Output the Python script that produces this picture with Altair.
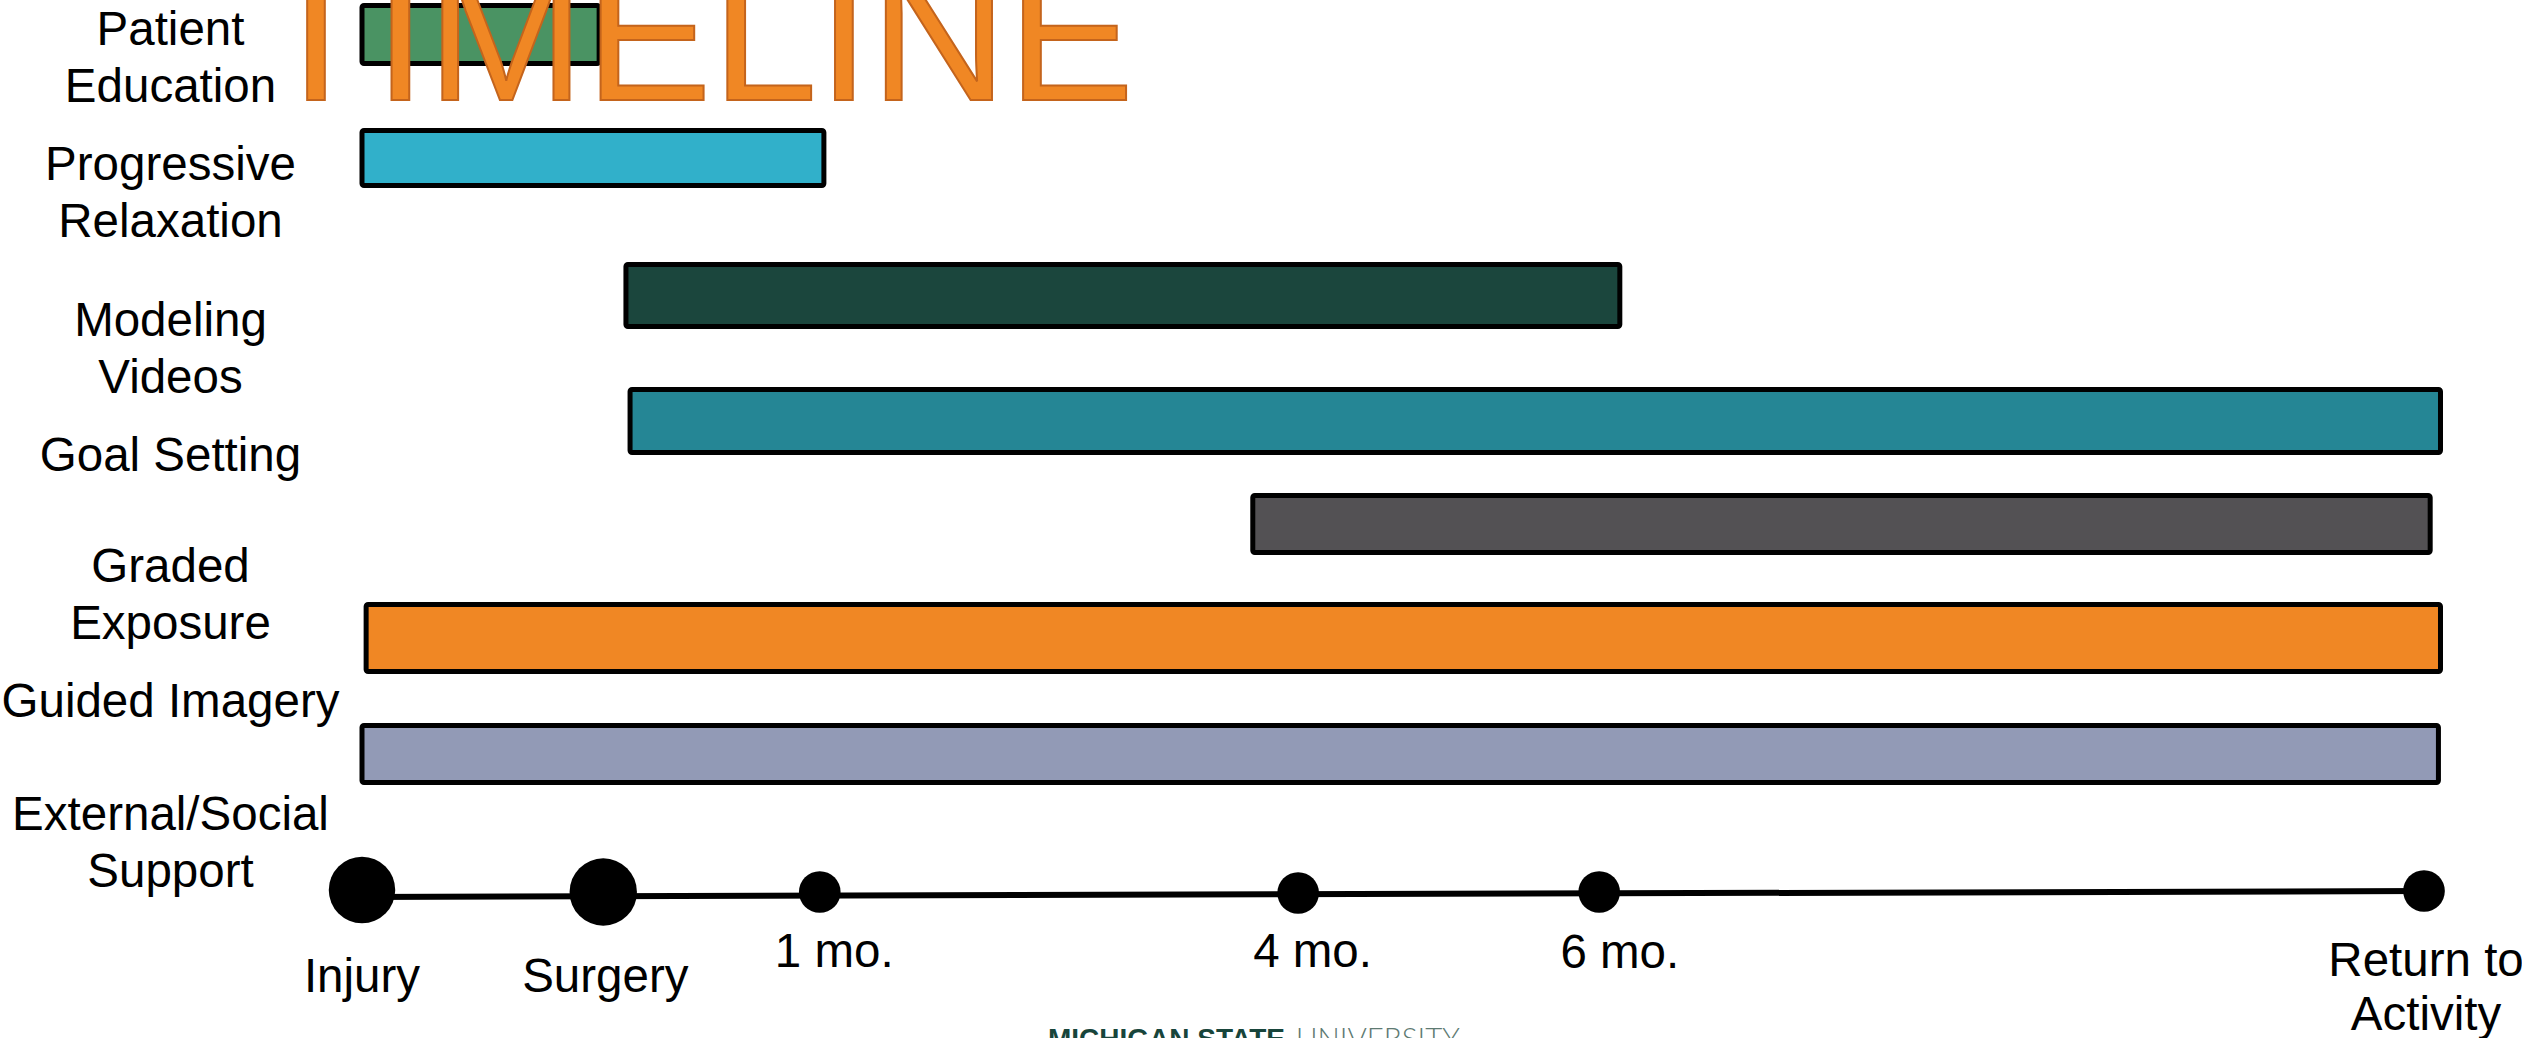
import altair as alt
import pandas as pd

# ---------------- data ----------------
# Timeline position: Injury = 0, Return to Activity = 100
milestones = ["Injury", "Surgery", "1 mo.", "4 mo.", "6 mo.", "Return to\nActivity"]
milestone_pos = [0, 11.7, 22.2, 45.4, 60.0, 100]
milestone_y = [890, 892, 892, 893, 892, 891]
milestone_size = [4418, 4536, 1735, 1735, 1735, 1735]
label_pos = [0, 11.8, 22.9, 46.1, 61.0, 100.1]
label_baseline = [992, 992, 967, 967, 968, 976]

activities = ["Patient\nEducation", "Progressive\nRelaxation", "Modeling\nVideos",
              "Goal Setting", "Graded\nExposure", "Guided Imagery",
              "External/Social\nSupport"]
activity_label_y = [45, 180, 336, 471, 582, 717, 830]

bar_start = [0, 0, 12.8, 13.0, 43.2, 0.2, 0]
bar_end = [11.5, 22.4, 61.0, 100.8, 100.3, 100.8, 100.7]
bar_top = [5.5, 130.5, 264.5, 389.5, 495.5, 604.5, 725.5]
bar_bottom = [63.5, 185.5, 326.5, 452.5, 552.5, 671.5, 782.5]
bar_colors = ["#4A9363", "#31B0CA", "#1B463D", "#258695", "#535154", "#F08724", "#929AB6"]

axis_line = {"start": [0], "end": [100], "y_start": [897], "y_end": [891]}

# ---------------- layout ----------------
W, H = 2522, 1038
PX_PER_UNIT = 20.62
X0 = 362
xscale = alt.Scale(domain=[-X0 / PX_PER_UNIT, (W - X0) / PX_PER_UNIT], nice=False, zero=False)
yscale = alt.Scale(domain=[H, 0], nice=False, zero=False)
FONT = "Liberation Sans, Arial, Helvetica, sans-serif"
LABEL_X = (170.5 - X0) / PX_PER_UNIT

bars = pd.DataFrame({"activity": activities, "start": bar_start, "end": bar_end,
                     "top": bar_top, "bottom": bar_bottom, "color": bar_colors})
labels = pd.DataFrame({"activity": activities, "y": activity_label_y,
                       "x": [LABEL_X] * len(activities)})
ms = pd.DataFrame({"name": milestones, "pos": milestone_pos, "y": milestone_y,
                   "size": milestone_size, "lpos": label_pos, "ly": label_baseline})
line = pd.DataFrame(axis_line)

bar_layer = alt.Chart(bars).mark_rect(stroke="black", strokeWidth=5, cornerRadius=2,
                                      strokeJoin="round").encode(
    x=alt.X("start:Q", scale=xscale, axis=None),
    x2="end:Q",
    y=alt.Y("top:Q", scale=yscale, axis=None),
    y2="bottom:Q",
    fill=alt.Fill("color:N", scale=None),
)

label_layer = alt.Chart(labels).mark_text(
    font=FONT, fontSize=47.5, align="center", baseline="alphabetic",
    lineBreak="\n", lineHeight=57, color="black"
).encode(
    x=alt.X("x:Q", scale=xscale, axis=None),
    y=alt.Y("y:Q", scale=yscale, axis=None),
    text="activity:N",
)

line_layer = alt.Chart(line).mark_rule(color="black", strokeWidth=6).encode(
    x=alt.X("start:Q", scale=xscale, axis=None),
    x2="end:Q",
    y=alt.Y("y_start:Q", scale=yscale, axis=None),
    y2="y_end:Q",
)

dot_layer = alt.Chart(ms).mark_circle(color="black", opacity=1).encode(
    x=alt.X("pos:Q", scale=xscale, axis=None),
    y=alt.Y("y:Q", scale=yscale, axis=None),
    size=alt.Size("size:Q", scale=None, legend=None),
)

ms_label_layer = alt.Chart(ms).mark_text(
    font=FONT, fontSize=47.5, align="center", baseline="alphabetic",
    lineBreak="\n", lineHeight=54, color="black"
).encode(
    x=alt.X("lpos:Q", scale=xscale, axis=None),
    y=alt.Y("ly:Q", scale=yscale, axis=None),
    text="name:N",
)

title_layer = alt.Chart(pd.DataFrame({"t": ["TIMELINE"]})).mark_text(
    font=FONT, fontSize=190, align="center", baseline="alphabetic",
    fill="#F08724", stroke="#C4641C", strokeWidth=2
).encode(x=alt.value(696), y=alt.value(100), text="t:N")

msu1 = alt.Chart(pd.DataFrame({"t": ["MICHIGAN STATE"]})).mark_text(
    font=FONT, fontSize=28, fontWeight="bold", align="left", baseline="alphabetic",
    color="#18453B"
).encode(x=alt.value(1048), y=alt.value(1048), text="t:N")

msu2 = alt.Chart(pd.DataFrame({"t": ["UNIVERSITY"]})).mark_text(
    font="Lato, Liberation Sans, sans-serif", fontSize=29.5, fontWeight=300, align="left",
    baseline="alphabetic", color="#5E7A72"
).encode(x=alt.value(1296), y=alt.value(1049), text="t:N")

chart = alt.layer(
    bar_layer, title_layer, label_layer, line_layer, dot_layer, ms_label_layer, msu1, msu2
).properties(
    width=W, height=H, autosize=alt.AutoSizeParams(type="none"), padding=0,
    background="white"
).configure_view(stroke=None)

chart.save("out.html", embed_options={"renderer": "svg", "actions": False})
